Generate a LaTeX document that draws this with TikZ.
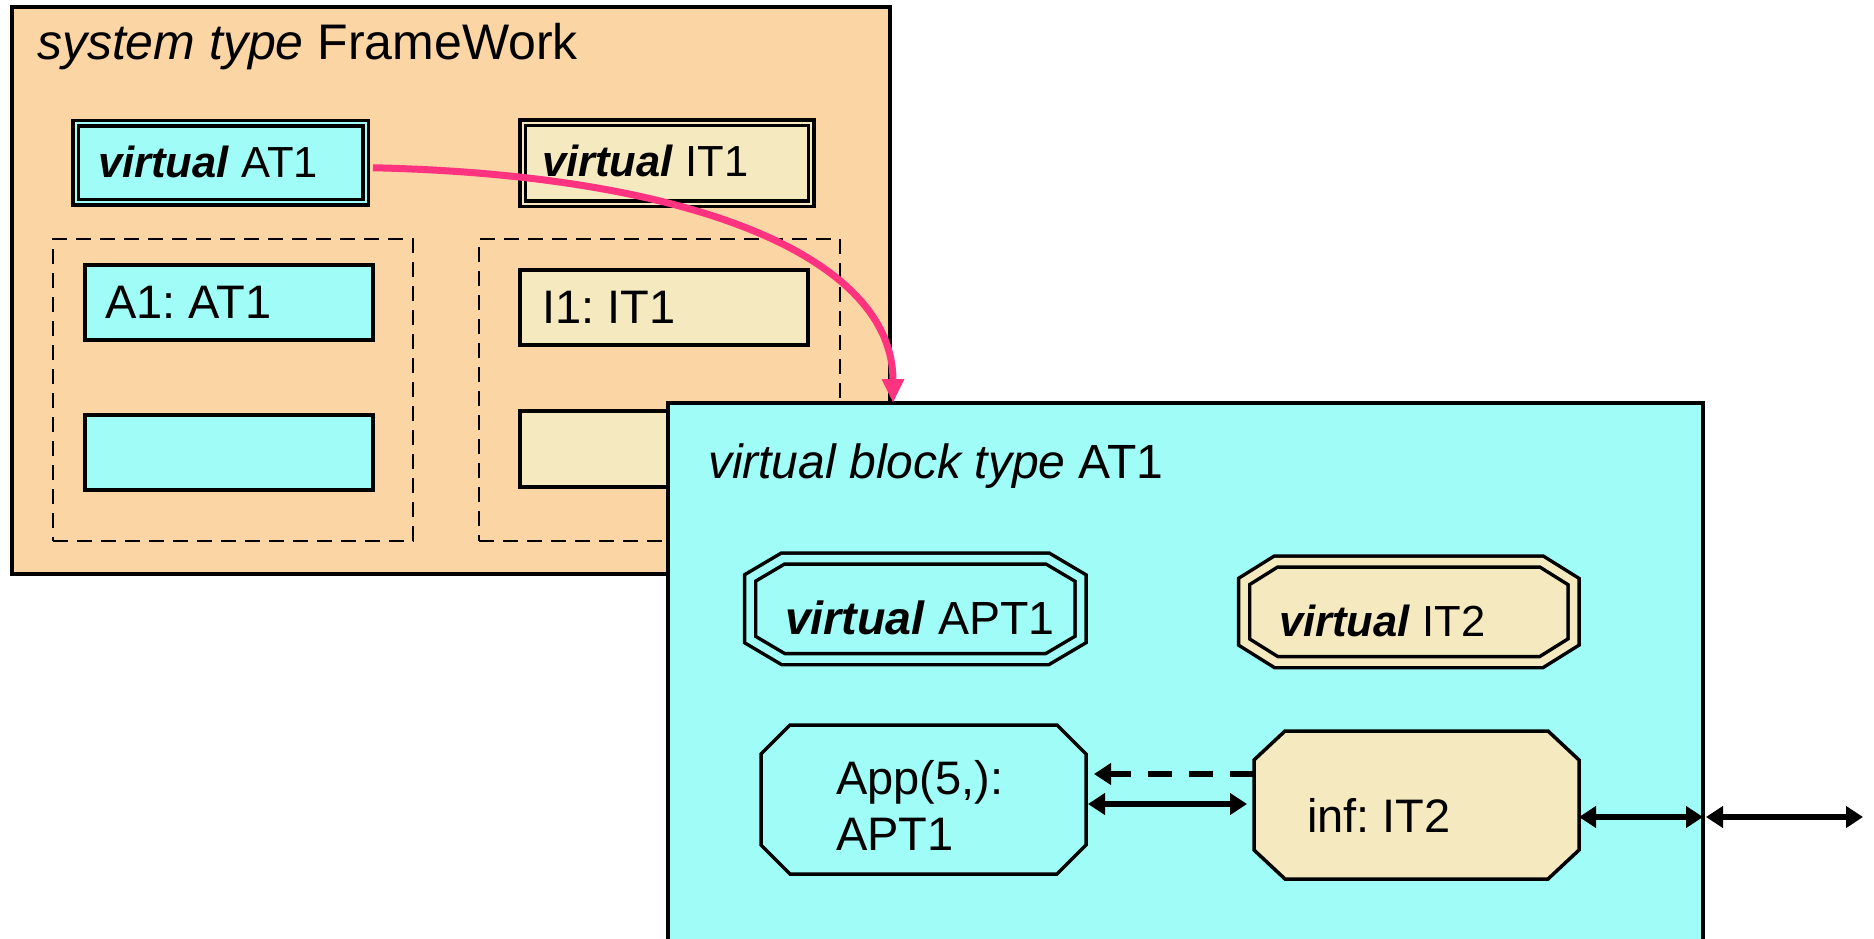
\documentclass[tikz,border=0pt]{standalone}
\usepackage{fontspec}
\setmainfont{Liberation Sans}
\usetikzlibrary{arrows.meta}
\definecolor{peach}{RGB}{252,213,164}
\definecolor{aqua}{RGB}{160,252,246}
\definecolor{sand}{RGB}{245,233,192}
\definecolor{hotpink}{RGB}{255,51,128}
\frenchspacing
\newcommand\fT{\fontsize{50}{60}\selectfont}
\newcommand\fB{\fontsize{48}{58}\selectfont}
\newcommand\fV{\fontsize{43.5}{52}\selectfont}
\newcommand\fW{\fontsize{46.5}{56}\selectfont}
\newcommand\fN{\fontsize{47}{56}\selectfont}
\newcommand\virt{\textbf{\textit{virtual}}}
\newcommand\octo[7][]{\draw[#1] ({#2+#6},#3) -- ({#4-#6},#3) -- (#4,{#3+#7}) -- (#4,{#5-#7}) -- ({#4-#6},#5) -- ({#2+#6},#5) -- (#2,{#5-#7}) -- (#2,{#3+#7}) -- cycle;}
\tikzset{
 plain/.style={rectangle, draw=black, line width=3.5pt, inner sep=0pt, outer sep=0pt},
 dblrect/.style={rectangle, draw=black, line width=3.5pt, double distance=2pt, inner sep=0pt, outer sep=0pt},
 dashrect/.style={rectangle, draw=black, line width=2.8pt, dash pattern=on 15pt off 9pt, inner sep=0pt, outer sep=0pt},
 hull/.style={rectangle, inner sep=0pt, outer sep=0pt},
 octsingle/.style={draw=black, line width=3.5pt},
 octdouble/.style={draw=black, line width=3.5pt, double distance=7.5pt},
 lbl/.style={inner sep=0pt, outer sep=0pt, anchor=base west},
 link/.style={line width=6pt, >={Triangle[length=17pt,width=21pt]}},
 pinkarrow/.style={draw=hotpink, line width=7pt, -{Triangle[length=24pt,width=21pt]}},
}
\begin{document}
\begin{tikzpicture}[x=1pt,y=-1pt]
\useasboundingbox (0,0) rectangle (1874,939);
\clip (0,0) rectangle (1874,939);
% system frame
\node[plain, fill=peach, minimum width=878pt, minimum height=567pt] (fw) at (451,290.5) {};
\node[lbl] (fwtitle) at (37,60) {\fT\textit{system type} FrameWork};
\node[dblrect, fill=aqua, double=aqua, minimum width=290pt, minimum height=78.5pt] (vat1) at (220.5,162.75) {};
\node[lbl] (vat1txt) at (98,177) {\fV\virt{} AT1};
\node[dblrect, fill=sand, double=sand, minimum width=288.5pt, minimum height=80.5pt] (vit1) at (666.75,163.25) {};
\node[lbl] (vit1txt) at (542,176) {\fV\virt{} IT1};
\node[dashrect, minimum width=360pt, minimum height=302pt] (dl) at (233,390) {};
\node[dashrect, minimum width=361pt, minimum height=302pt] (dr) at (659.5,390) {};
\node[plain, fill=aqua, minimum width=288pt, minimum height=75pt] (a1) at (229,302.5) {};
\node[lbl] (a1txt) at (105,318) {\fN A1: AT1};
\node[plain, fill=aqua, minimum width=288pt, minimum height=75pt] (a2) at (229,452.5) {};
\node[plain, fill=sand, minimum width=288pt, minimum height=75pt] (i1) at (664,307.5) {};
\node[lbl] (i1txt) at (542,323) {\fN I1: IT1};
\node[plain, fill=sand, minimum width=288pt, minimum height=76pt] (i2) at (664,449) {};
% virtual block type
\node[plain, fill=aqua, minimum width=1035pt, minimum height=552pt] (blk) at (1185.5,679) {};
\node[lbl] (blktitle) at (708,478) {\fB\textit{virtual block type} AT1};
\node[hull, minimum width=330.5pt, minimum height=100.5pt] (vapt1) at (915.25,608.75) {};
\octo[octdouble, fill=aqua, double=aqua]{750}{558.5}{1080.5}{659}{33}{19.5}
\node[lbl] (vapt1txt) at (785,634) {\fW\virt{} APT1};
\node[hull, minimum width=329.5pt, minimum height=100.5pt] (vit2) at (1408.75,611.75) {};
\octo[octdouble, fill=sand, double=sand]{1244}{561.5}{1573.5}{662}{32}{20}
\node[lbl] (vit2txt) at (1279,636) {\fV\virt{} IT2};
\node[hull, minimum width=325pt, minimum height=149pt] (app) at (923.5,799.5) {};
\octo[octsingle, fill=aqua]{761}{725}{1086}{874}{29}{29}
\node[lbl] (apptxt1) at (836,794) {\fN App(5,):};
\node[lbl] (apptxt2) at (836,850) {\fN APT1};
\node[hull, minimum width=325pt, minimum height=148pt] (inf) at (1416.5,805) {};
\octo[octsingle, fill=sand]{1254}{731}{1579}{879}{31}{29}
\node[lbl] (inftxt) at (1307,832) {\fN inf: IT2};
% connectors
\draw[link, ->, dash pattern=on 24pt off 17pt] ([yshift=31pt]inf.west) -- ([xshift=8pt,yshift=25.5pt]app.east);
\draw[link, <->] ([xshift=2pt,yshift=-4.5pt]app.east) -- ([xshift=-7pt,yshift=1pt]inf.west);
\draw[link, <->] ([yshift=-12pt]inf.east) -- ([yshift=-138pt]blk.east);
\coordinate (ext) at (1863,817);
\draw[link, <->] ([xshift=3pt,yshift=-138pt]blk.east) -- (ext);
\draw[pinkarrow] ([xshift=7.5pt,yshift=-5pt]vat1.east) .. controls (700,175) and (893,260) .. ([xshift=225pt]blk.north west);
\end{tikzpicture}
\end{document}
